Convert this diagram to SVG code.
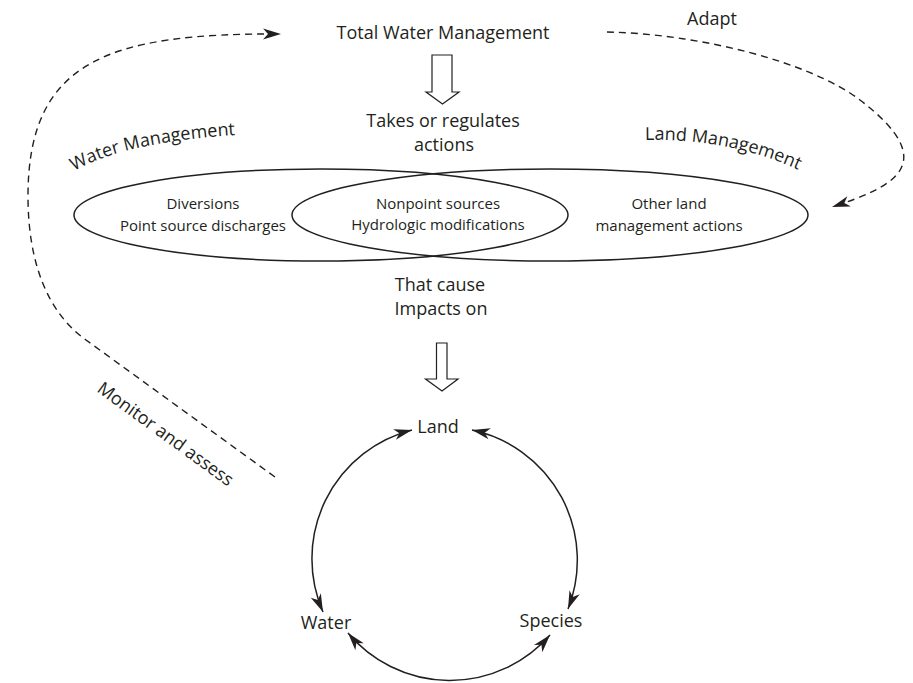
<svg xmlns="http://www.w3.org/2000/svg" width="913" height="683" viewBox="0 0 913 683">
  <style>
    text { font-family: "Open Sans", "Noto Sans", "Liberation Sans", sans-serif; fill: #231f20; }
    .big { font-size: 18px; }
    .small { font-size: 15px; }
    .mid { text-anchor: middle; }
    .outline { fill: none; stroke: #231f20; stroke-width: 1.5; }
    .hollow { fill: #ffffff; stroke: #231f20; stroke-width: 1.2; stroke-linejoin: miter; }
    .dashed { fill: none; stroke: #231f20; stroke-width: 1.4; stroke-dasharray: 7 5; }
    .arc { fill: none; stroke: #231f20; stroke-width: 1.5; }
  </style>
  <defs>
    <marker id="head" markerUnits="userSpaceOnUse" markerWidth="20" markerHeight="14" refX="18" refY="6" orient="auto-start-reverse" overflow="visible">
      <path d="M0,0.5 L18,6 L0,11.5 L5,6 Z" fill="#231f20"/>
    </marker>
    <path id="wm-path" d="M74,171 Q128,140 252,134"/>
    <path id="lm-path" d="M645,140 Q740,138 815,178"/>
  </defs>

  <rect width="913" height="683" fill="#ffffff"/>

  <!-- top of the loop -->
  <g id="total-water-management">
    <text class="big mid" x="443" y="39">Total Water Management</text>
  </g>

  <g id="takes-actions">
    <polygon class="hollow" points="432,55 452,55 452,92 459,92 442.5,104 426,92 432,92"/>
    <text class="big mid" x="443" y="127">Takes or regulates</text>
    <text class="big mid" x="444" y="151">actions</text>
  </g>

  <!-- overlapping management domains -->
  <g id="water-management">
    <ellipse class="outline" cx="321" cy="215" rx="247" ry="46"/>
    <text class="big"><textPath href="#wm-path">Water Management</textPath></text>
    <text class="small mid" x="203" y="209">Diversions</text>
    <text class="small mid" x="203" y="231">Point source discharges</text>
  </g>

  <g id="land-management">
    <ellipse class="outline" cx="550" cy="215" rx="258" ry="46"/>
    <text class="big"><textPath href="#lm-path">Land Management</textPath></text>
    <text class="small mid" x="669" y="209">Other land</text>
    <text class="small mid" x="669" y="231">management actions</text>
  </g>

  <g id="shared-actions">
    <text class="small mid" x="438" y="209">Nonpoint sources</text>
    <text class="small mid" x="438" y="230">Hydrologic modifications</text>
  </g>

  <g id="impacts">
    <text class="big mid" x="440" y="291">That cause</text>
    <text class="big mid" x="441" y="315">Impacts on</text>
    <polygon class="hollow" points="436.5,343 447,343 447,379 458,379 442,391 425.5,379 436.5,379"/>
  </g>

  <!-- resources -->
  <g id="land">
    <text class="big mid" x="438" y="433">Land</text>
  </g>
  <g id="water">
    <text class="big mid" x="326" y="629">Water</text>
  </g>
  <g id="species">
    <text class="big mid" x="551" y="627">Species</text>
  </g>

  <g id="connectors">
    <!-- interactions among land, water and species -->
    <path class="arc" d="M412,430 A133,133 0 0 0 323,612" marker-start="url(#head)" marker-end="url(#head)"/>
    <path class="arc" d="M472,430 A133,133 0 0 1 568,609" marker-start="url(#head)" marker-end="url(#head)"/>
    <path class="arc" d="M348,633 A133,133 0 0 0 550,635" marker-start="url(#head)" marker-end="url(#head)"/>

    <!-- monitor and assess feedback -->
    <path class="dashed" d="M275,477 L86,340 C47,312 28,262 28,196 C28,60 110,33 281,34" marker-end="url(#head)"/>
    <text class="big" transform="rotate(36 96 391)" x="96" y="391">Monitor and assess</text>

    <!-- adapt feedback -->
    <path class="dashed" d="M607,32 C700,34 810,62 860,100 C945,165 890,188 832,207" marker-end="url(#head)"/>
    <text class="big mid" x="712" y="25">Adapt</text>
  </g>
</svg>
